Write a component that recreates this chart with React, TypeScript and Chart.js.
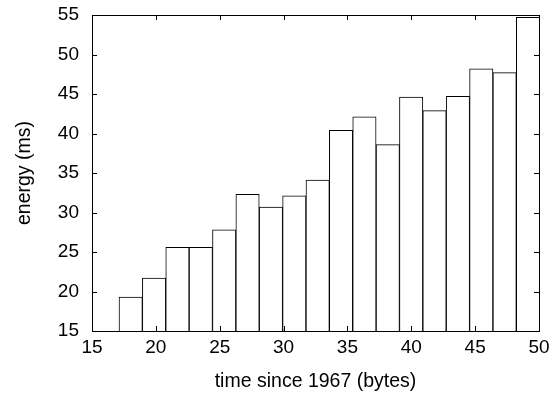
import React, { useEffect, useRef } from "react";
import { Chart, registerables } from "chart.js";

Chart.register(...registerables);

const binCenters = [18.03, 19.86, 21.69, 23.52, 25.35, 27.18, 29.01, 30.84, 32.67, 34.5, 36.33, 38.16, 39.99, 41.82, 43.65, 45.48, 47.31, 49.14];
const energy = [19.3, 21.7, 25.6, 25.6, 27.8, 32.3, 30.7, 32.1, 34.1, 40.4, 42.1, 38.6, 44.6, 42.9, 44.7, 48.2, 47.7, 54.7];
const xTitle = "time since 1967 (bytes)";
const yTitle = "energy (ms)";

const FONT = '"Liberation Sans", Arial, Helvetica, sans-serif';

const framePlugin = {
  id: "frame",
  afterDraw(chart: any) {
    const { ctx, chartArea } = chart;
    const { left, right, top, bottom } = chartArea;
    const xs = chart.scales.x;
    const ys = chart.scales.y;
    ctx.save();
    ctx.strokeStyle = "#000";
    ctx.lineWidth = 1;
    ctx.beginPath();
    const L = 5;
    xs.ticks.forEach((t: any) => {
      const px = Math.round(xs.getPixelForValue(t.value)) + 0.5;
      ctx.moveTo(px, bottom);
      ctx.lineTo(px, bottom - L);
      ctx.moveTo(px, top);
      ctx.lineTo(px, top + L);
    });
    ys.ticks.forEach((t: any) => {
      const py = Math.round(ys.getPixelForValue(t.value)) + 0.5;
      ctx.moveTo(left, py);
      ctx.lineTo(left + L, py);
      ctx.moveTo(right, py);
      ctx.lineTo(right - L, py);
    });
    ctx.stroke();
    ctx.strokeRect(Math.round(left) + 0.5, Math.round(top) + 0.5, Math.round(right - left), Math.round(bottom - top));
    ctx.restore();
  },
};

export default function App() {
  const ref = useRef<HTMLCanvasElement>(null);
  useEffect(() => {
    if (!ref.current) return;
    const chart = new Chart(ref.current, {
      type: "bar",
      data: {
        datasets: [
          {
            data: binCenters.map((x, i) => ({ x, y: energy[i] })),
            backgroundColor: "#ffffff",
            borderColor: "#000000",
            borderWidth: 1,
            categoryPercentage: 1,
            barPercentage: 1,
          },
        ],
      },
      options: {
        responsive: false,
        animation: false,
        layout: { padding: { top: 15, right: 17, left: 0, bottom: 0 } },
        plugins: { legend: { display: false }, tooltip: { enabled: false } },
        scales: {
          x: {
            type: "linear",
            offset: false,
            min: 15,
            max: 50,
            grid: { display: false, drawTicks: false, offset: false },
            border: { display: false },
            ticks: { stepSize: 5, color: "#000", font: { family: FONT, size: 19 }, padding: 5, maxRotation: 0 },
            title: { display: true, text: xTitle, color: "#000", font: { family: FONT, size: 19.5 }, padding: { top: 4, bottom: 2 } },
            afterFit(scale: any) {
              scale.height = 64;
              scale.paddingLeft = 0;
              scale.paddingRight = 0;
            },
          },
          y: {
            type: "linear",
            min: 15,
            max: 55,
            grid: { display: false, drawTicks: false },
            border: { display: false },
            ticks: { stepSize: 5, color: "#000", font: { family: FONT, size: 19 }, padding: 13 },
            title: { display: true, text: yTitle, color: "#000", font: { family: FONT, size: 19.5 }, padding: { top: 13, bottom: 4 } },
            afterFit(scale: any) {
              scale.width = 92;
              scale.paddingTop = 0;
              scale.paddingBottom = 0;
            },
          },
        },
      },
      plugins: [framePlugin],
    });
    return () => chart.destroy();
  }, []);
  return (
    <div style={{ position: "absolute", left: 0, top: 0, width: 556, height: 395, background: "#fff" }}>
      <canvas ref={ref} width={556} height={395} />
    </div>
  );
}
